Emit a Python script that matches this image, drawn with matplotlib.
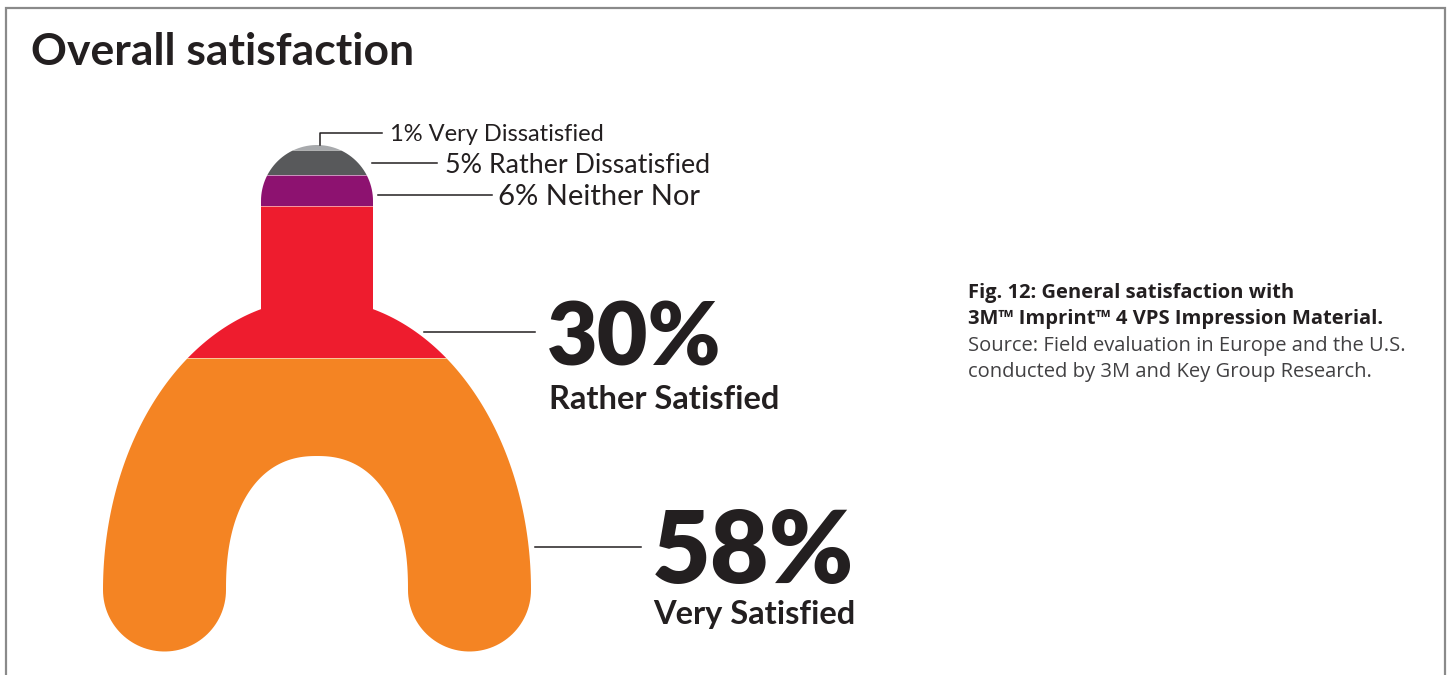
import numpy as np
import matplotlib
matplotlib.use("Agg")
import matplotlib.pyplot as plt
from matplotlib.path import Path
from matplotlib.patches import PathPatch, Rectangle

# ---------------- data ----------------
categories = ["Very Satisfied", "Rather Satisfied", "Neither Nor",
              "Rather Dissatisfied", "Very Dissatisfied"]
values = [58, 30, 6, 5, 1]          # percent, stacked bottom -> top
colors = ["#F48423", "#EE1C2E", "#8D1270", "#58595B", "#A7A9AC"]
title = "Overall satisfaction"
caption_bold = ["Fig. 12: General satisfaction with",
                "3M\u2122 Imprint\u2122 4 VPS Impression Material."]
caption_regular = ["Source: Field evaluation in Europe and the U.S.",
                   "conducted by 3M and Key Group Research."]

FONT = "Lato"
CAPFONT = "Open Sans"
TXT = "#231F20"

W, H = 1450, 675
fig = plt.figure(figsize=(W / 100, H / 100), dpi=100)
ax = fig.add_axes([0, 0, 1, 1])
ax.set_xlim(0, W)
ax.set_ylim(H, 0)
ax.axis("off")

# ---------------- tray outline (pixel space, y down) ----------------
cx = 317.0
stem_half = 56.0
cap_cy = 201.0
ell_cy, ell_a, ell_b = 590.0, 214.0, 291.0
foot_r = 61.5
inner_a, inner_b, inner_n = 91.0, 134.0, 2.3

pts = []
th = np.linspace(np.pi, 0, 60)
pts += list(zip(cx + stem_half * np.cos(th), cap_cy - stem_half * np.sin(th)))
t0 = np.arccos(stem_half / ell_a)
t = np.linspace(t0, 0, 80)
pts += list(zip(cx + ell_a * np.cos(t), ell_cy - ell_b * np.sin(t)))
fcx_r = cx + ell_a - foot_r
th = np.linspace(0, np.pi, 60)
pts += list(zip(fcx_r + foot_r * np.cos(th), ell_cy + foot_r * np.sin(th)))
ph = np.linspace(0, np.pi, 120)
c, s = np.cos(ph), np.sin(ph)
pts += list(zip(cx + inner_a * np.sign(c) * np.abs(c) ** (2 / inner_n),
                ell_cy - inner_b * np.abs(s) ** (2 / inner_n)))
fcx_l = cx - ell_a + foot_r
pts += list(zip(fcx_l + foot_r * np.cos(th), ell_cy + foot_r * np.sin(th)))
t = np.linspace(np.pi, np.pi - t0, 80)
pts += list(zip(cx + ell_a * np.cos(t), ell_cy - ell_b * np.sin(t)))
pts.append(pts[0])
shape_path = Path(np.array(pts), closed=True)
clip = PathPatch(shape_path, facecolor="none", edgecolor="none")
ax.add_patch(clip)

top_y = cap_cy - stem_half
bot_y = ell_cy + foot_r
span = bot_y - top_y
x0, x1 = cx - ell_a - 5, cx + ell_a + 5

cum = 0.0
for v, col in zip(values, colors):
    y_low = bot_y - cum / 100 * span
    y_high = bot_y - (cum + v) / 100 * span
    r = Rectangle((x0, y_high), x1 - x0, y_low - y_high, facecolor=col,
                  edgecolor="none")
    ax.add_patch(r)
    r.set_clip_path(clip)
    if cum > 0:
        ln, = ax.plot([x0, x1], [y_low, y_low], color="white", lw=0.7, alpha=0.55)
        ln.set_clip_path(clip)
    cum += v

# ---------------- frame ----------------
ax.plot([6, 6, 1445, 1445], [H, 8, 8, H], color="#8A8A8A", lw=1.6,
        solid_joinstyle="miter")

# ---------------- title ----------------
ax.text(31, 65, title, fontsize=32, fontweight="bold", family=FONT,
        color=TXT, va="baseline", ha="left")

# ---------------- labels ----------------
lk = dict(color=TXT, lw=1.1)
# Very Dissatisfied
ax.plot([320, 320, 382], [145, 133, 133], **lk)
ax.text(390, 141, f"{values[4]}% {categories[4]}", fontsize=17, family=FONT,
        color=TXT, va="baseline")
# Rather Dissatisfied
ax.plot([372, 437], [163, 163], **lk)
ax.text(445, 173, f"{values[3]}% {categories[3]}", fontsize=19.3, family=FONT,
        color=TXT, va="baseline")
# Neither Nor
ax.plot([378, 492], [195, 195], **lk)
ax.text(498, 205, f"{values[2]}% {categories[2]}", fontsize=21, family=FONT,
        color=TXT, va="baseline")
# Rather Satisfied
ax.plot([424, 535], [332, 332], **lk)
ax.text(547, 366, f"{values[1]}%", fontsize=63, fontweight="heavy", family=FONT,
        color=TXT, va="baseline")
ax.text(549, 409, categories[1], fontsize=23.5, fontweight="bold", family=FONT,
        color=TXT, va="baseline")
# Very Satisfied
ax.plot([535, 641], [547, 547], **lk)
ax.text(652, 583, f"{values[0]}%", fontsize=73, fontweight="heavy", family=FONT,
        color=TXT, va="baseline")
ax.text(653, 624, categories[0], fontsize=23.5, fontweight="bold", family=FONT,
        color=TXT, va="baseline")

# ---------------- caption ----------------
for yy, line in zip([298, 324], caption_bold):
    ax.text(968, yy, line, fontsize=14.5, fontweight="bold", family=CAPFONT,
            color=TXT, va="baseline")
for yy, line in zip([351, 377], caption_regular):
    ax.text(968, yy, line, fontsize=14.5, family=CAPFONT, color="#414042",
            va="baseline")

fig.savefig("out.png", dpi=100, facecolor="white")
